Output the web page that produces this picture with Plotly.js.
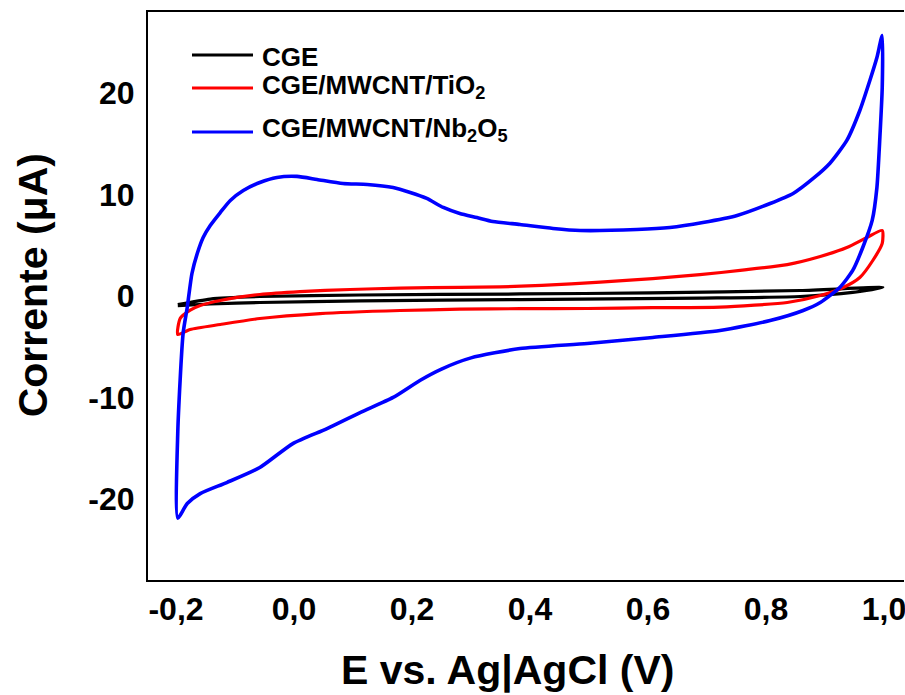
<!DOCTYPE html>
<html>
<head>
<meta charset="utf-8">
<script src="https://cdn.plot.ly/plotly-3.0.1.min.js"></script>
<style>html,body{margin:0;padding:0;background:#fff;}#chart{width:905px;height:695px;}</style>
</head>
<body>
<div id="chart"></div>
<script>
// CGE (black) loop: anodic then cathodic
const cgeE = [-0.197,-0.142,-0.058,0.112,0.383,0.603,0.858,0.998, 0.947,0.858,0.688,0.383,0.112,-0.058,-0.142,-0.197];
const cgeI = [-0.84,-0.30,-0.05,0.10,0.20,0.30,0.54,0.84, 0.35,-0.05,-0.20,-0.35,-0.49,-0.64,-0.79,-0.94];

// CGE/MWCNT/TiO2 (red) loop
const tioE = [-0.197,-0.193,-0.176,-0.159,-0.125,-0.058,0.010,0.095,0.180,0.281,0.349,0.420,0.519,0.608,0.688,0.760,0.836,0.892,0.937,0.971,0.997,
              0.997,0.981,0.959,0.931,0.892,0.836,0.722,0.608,0.497,0.383,0.281,0.180,0.044,-0.058,-0.125,-0.176,-0.197];
const tioI = [-3.80,-2.22,-1.40,-0.94,-0.44,0.15,0.44,0.64,0.78,0.86,0.90,1.05,1.36,1.72,2.10,2.55,3.10,3.90,4.78,5.77,6.46,
              5.18,3.50,1.82,0.84,0.05,-0.64,-1.10,-1.15,-1.23,-1.25,-1.30,-1.43,-1.73,-2.22,-2.81,-3.30,-3.80];

// CGE/MWCNT/Nb2O5 (blue) loop
const nbE = [-0.197,-0.197,-0.188,-0.181,-0.173,-0.164,-0.154,-0.142,-0.125,-0.108,-0.086,-0.058,-0.029,0.005,0.039,0.083,0.124,0.168,0.197,0.225,0.253,0.281,0.310,0.337,0.383,0.439,0.485,0.581,0.637,0.693,0.751,0.807,0.846,0.880,0.908,0.937,0.959,0.976,0.988,0.997,
             0.997,0.993,0.988,0.980,0.964,0.947,0.925,0.892,0.863,0.807,0.722,0.608,0.497,0.383,0.300,0.250,0.214,0.168,0.112,0.056,-0.002,-0.058,-0.114,-0.159,-0.181,-0.197];
const nbI = [-21.9,-13.4,-3.70,-1.13,2.22,4.19,5.77,6.95,8.23,9.42,10.40,11.19,11.69,11.79,11.49,11.09,11.00,10.70,10.21,9.62,8.73,8.14,7.74,7.35,7.05,6.66,6.46,6.56,6.76,7.25,7.94,9.12,10.11,11.59,13.07,15.34,18.29,21.25,23.52,25.69,
             20.56,15.63,10.70,7.45,4.78,2.52,0.84,-0.64,-1.43,-2.42,-3.40,-4.09,-4.68,-5.18,-6.10,-7.20,-8.30,-10.0,-11.49,-13.07,-14.55,-16.91,-18.39,-19.48,-20.46,-21.9];

const seriesNames = ['CGE', 'CGE/MWCNT/TiO<sub>2</sub>', 'CGE/MWCNT/Nb<sub>2</sub>O<sub>5</sub>'];
const seriesColors = ['#000000', '#ff0000', '#0000ff'];

const xTickVals = [-0.2, 0.0, 0.2, 0.4, 0.6, 0.8, 1.0];
const xTickLabels = ['-0,2', '0,0', '0,2', '0,4', '0,6', '0,8', '1,0'];
const yTickVals = [-20, -10, 0, 10, 20];
const yTickLabels = ['-20', '-10', '0', '10', '20'];

const xTitle = 'E vs. Ag|AgCl (V)';
const yTitle = 'Corrente (μA)';

const FONT = 'Liberation Sans, Arial, sans-serif';

const xs = [cgeE, tioE, nbE];
const ys = [cgeI, tioI, nbI];
const widths = [3.2, 3.2, 3.6];
const traces = xs.map((x, i) => ({
  x: x, y: ys[i], type: 'scatter', mode: 'lines', name: seriesNames[i],
  line: {color: seriesColors[i], width: widths[i], shape: 'spline', smoothing: 0.6},
  showlegend: false
}));

// manual legend
const legY = [0.9243, 0.8662, 0.7887];
const legTextY = [0.9202, 0.8680, 0.7930];
const shapes = legY.map((yy, i) => ({
  type: 'line', xref: 'paper', yref: 'paper', x0: 0.0582, x1: 0.1389, y0: yy, y1: yy,
  line: {color: seriesColors[i], width: 3}
}));
const annotations = seriesNames.map((n, i) => ({
  xref: 'paper', yref: 'paper', x: 0.148, y: legTextY[i], xanchor: 'left', yanchor: 'middle',
  text: n, showarrow: false, font: {family: FONT, size: 26, color: '#000', weight: 'bold'}
}));
annotations.push({
  xref: 'paper', yref: 'paper', x: 0.4755, y: -0.158, xanchor: 'center', yanchor: 'middle',
  text: xTitle, showarrow: false, font: {family: FONT, size: 41, color: '#000', weight: 'bold'}
});
annotations.push({
  xref: 'paper', yref: 'paper', x: -0.152, y: 0.519, xanchor: 'center', yanchor: 'middle', textangle: -90,
  text: yTitle, showarrow: false, font: {family: FONT, size: 41, color: '#000', weight: 'bold'}
});

const layout = {
  width: 905, height: 695,
  margin: {l: 148, r: 1, t: 12, b: 115, pad: 0},
  paper_bgcolor: '#fff', plot_bgcolor: '#fff',
  showlegend: false,
  xaxis: {
    range: [-0.2475, 1.0339], showgrid: false, zeroline: false,
    showline: true, linecolor: '#000', linewidth: 2, mirror: true,
    ticks: '', tickvals: xTickVals, ticktext: xTickLabels,
    tickfont: {family: FONT, size: 32, color: '#000', weight: 'bold'},
    ticklabelstandoff: 0, ticklabeloverflow: 'allow'
  },
  yaxis: {
    range: [-28, 28], showgrid: false, zeroline: false,
    showline: true, linecolor: '#000', linewidth: 2, mirror: false,
    ticks: '', tickvals: yTickVals, ticktext: yTickLabels,
    tickfont: {family: FONT, size: 32, color: '#000', weight: 'bold'},
    ticklabelstandoff: 5
  },
  shapes: shapes,
  annotations: annotations
};

Plotly.newPlot('chart', traces, layout, {displayModeBar: false, staticPlot: true});
</script>
</body>
</html>
